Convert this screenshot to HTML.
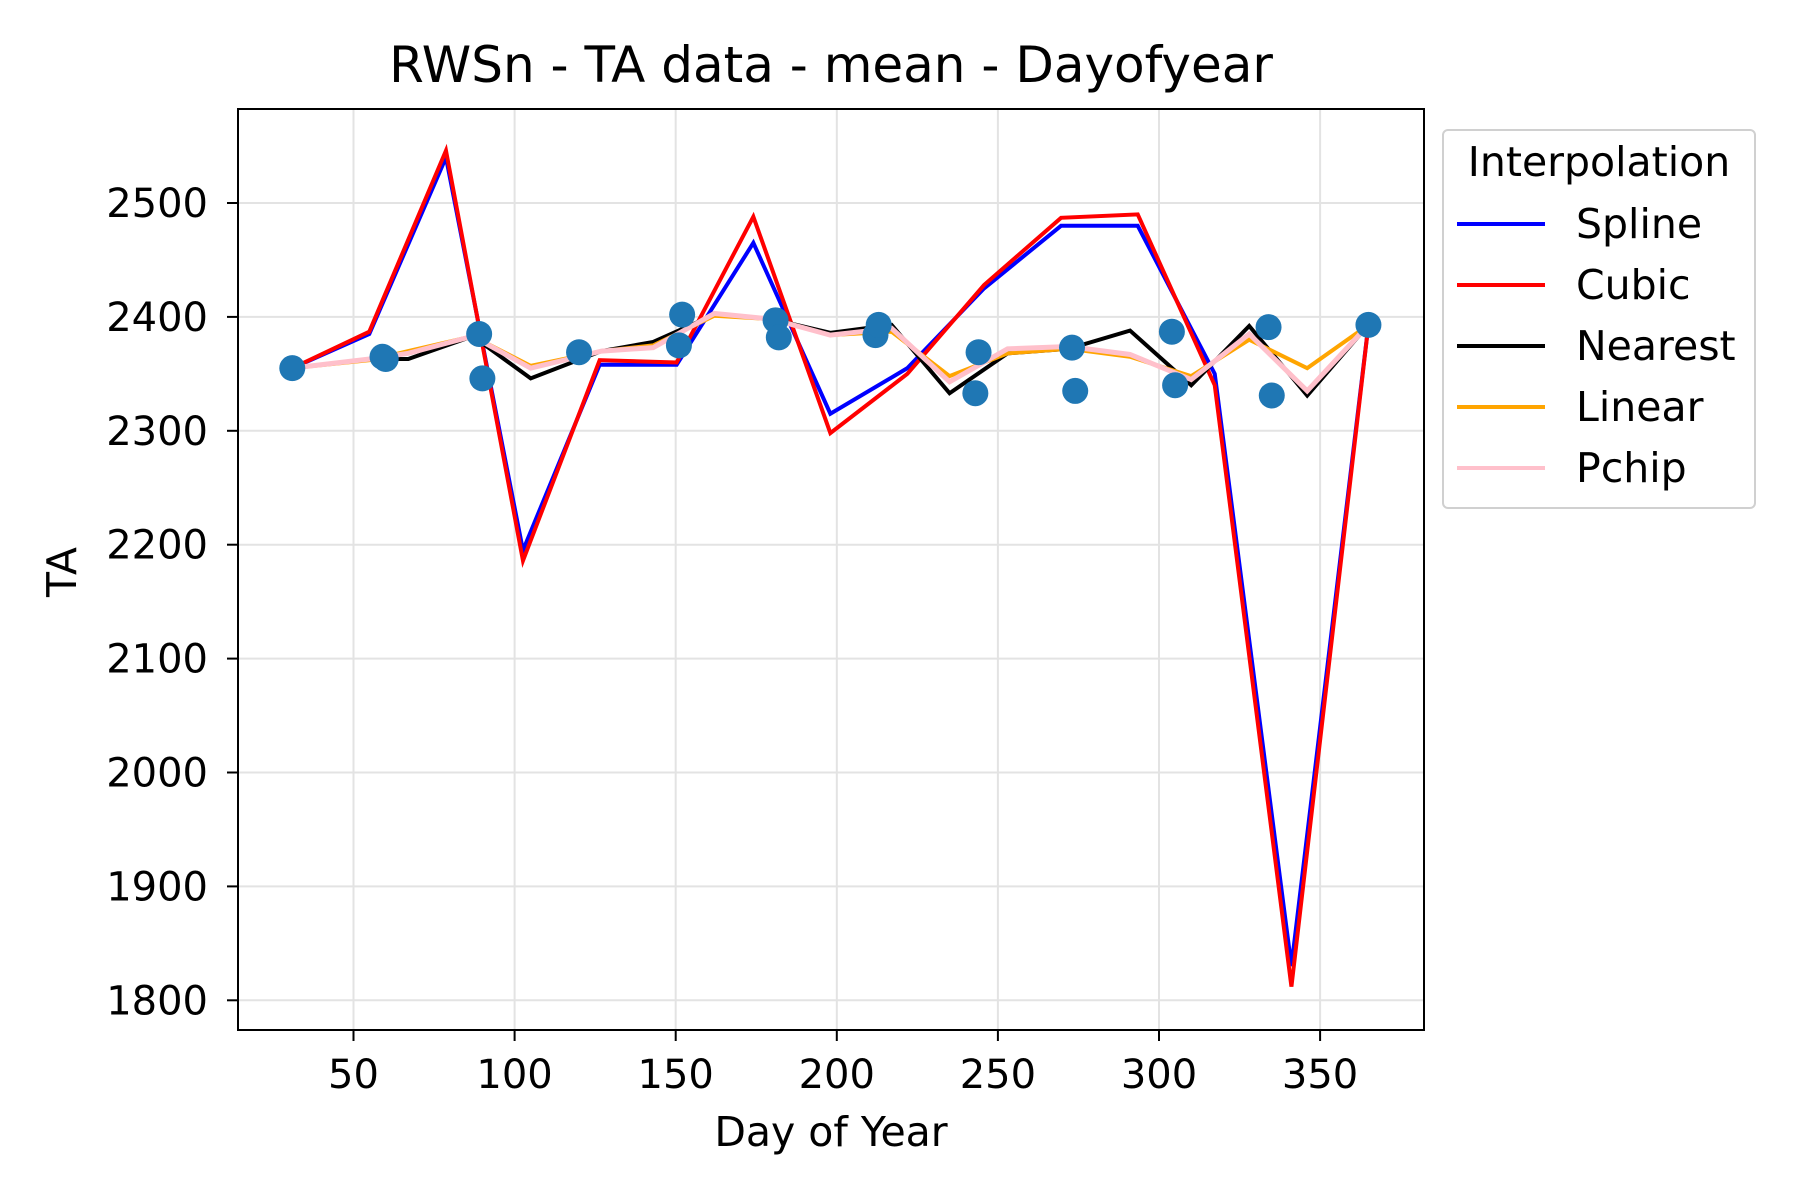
<!DOCTYPE html>
<html><head><meta charset="utf-8"><style>
body{margin:0;background:#fff}
svg{display:block;font-family:"DejaVu Sans","Liberation Sans",sans-serif}
</style></head><body>
<svg id="chart" width="1800" height="1200" viewBox="0 0 1800 1200">
<rect width="1800" height="1200" fill="#fff"/>
<g id="grid"></g><g id="lines"></g><g id="pts"></g><g id="axes"></g><g id="legend"></g>
</svg>
<script>
const xTicks=[50,100,150,200,250,300,350];
const yTicks=[1800,1900,2000,2100,2200,2300,2400,2500];
const scatterDays=[31,59,60,89,90,120,151,152,181,182,212,213,243,244,273,274,304,305,334,335,365];
const scatterVals=[2355,2365,2363,2385,2346,2369,2375,2402,2397,2382,2384,2393,2333,2369,2373,2335,2387,2340,2391,2331,2393];
const knotDays=[31,54.9,78.7,102.6,126.4,150.3,174.1,198,221.9,245.7,269.6,293.4,317.3,341.1,365];
const splineVals=[2355,2385,2540,2195,2358,2358,2465,2315,2355,2425,2480,2480,2350,1830,2393];
const cubicVals=[2355,2387,2546,2186,2362,2360,2488,2298,2350,2428,2487,2490,2340,1812,2393];
const fineDays=[31,55,67,87,105,127,143,162,180,198,217,235,253,272,291,310,328,346,365];
const nearestVals=[2355,2363,2363,2383,2346,2370,2378,2402,2398,2386,2393,2333,2368,2372,2388,2340,2392,2331,2393];
const linearVals=[2355,2362,2370,2383,2357,2370,2375,2401,2398,2384,2387,2348,2368,2372,2365,2348,2380,2355,2393];
const pchipVals=[2355,2363,2368,2383,2355,2370,2373,2403,2398,2384,2390,2343,2372,2374,2367,2345,2385,2335,2393];

const L=238,R=1424,T=109,B=1030;
const X=d=>353.5+(d-50)*3.222;
const Y=v=>203+(2500-v)*1.139;
const NS='http://www.w3.org/2000/svg';
function mk(tag,attrs,parent,text){const e=document.createElementNS(NS,tag);for(const k in attrs)e.setAttribute(k,attrs[k]);if(text!==undefined)e.textContent=text;parent.appendChild(e);return e;}
const grid=document.getElementById('grid'),axes=document.getElementById('axes'),lines=document.getElementById('lines'),pts=document.getElementById('pts'),leg=document.getElementById('legend');

xTicks.forEach(t=>{
 const g=mk('line',{x1:X(t),x2:X(t),y1:T,y2:B,stroke:'#e3e3e3','stroke-width':2},grid);
 
 
 mk('line',{x1:X(t),x2:X(t),y1:B,y2:B+11,stroke:'#000','stroke-width':2},axes);
 const l=mk('text',{x:X(t),y:B+58,'font-size':40,'text-anchor':'middle'},axes,String(t));
 
 
});
yTicks.forEach(t=>{
 const g=mk('line',{x1:L,x2:R,y1:Y(t),y2:Y(t),stroke:'#e3e3e3','stroke-width':2},grid);
 
 
 mk('line',{x1:L-11,x2:L,y1:Y(t),y2:Y(t),stroke:'#000','stroke-width':2},axes);
 const l=mk('text',{x:L-30,y:Y(t)+14,'font-size':40,'text-anchor':'end'},axes,String(t));
 
 
});
const frame=mk('rect',{x:L,y:T,width:R-L,height:B-T,fill:'none',stroke:'#000','stroke-width':2},axes);


const title=mk('text',{x:(L+R)/2,y:82,'font-size':50,'text-anchor':'middle'},axes,'RWSn - TA data - mean - Dayofyear');


const xl=mk('text',{x:(L+R)/2,y:1146,'font-size':41,'text-anchor':'middle'},axes,'Day of Year');


const yl=mk('text',{x:0,y:0,'font-size':41,'text-anchor':'middle',transform:'translate(76,572) rotate(-90)'},axes,'TA');



scatterDays.forEach((d,i)=>{
 const c=mk('circle',{cx:X(d),cy:Y(scatterVals[i]),r:13,fill:'#1f77b4'},pts);
 
 
});
function poly(days,vals,color,w,name){
 const p=mk('polyline',{points:days.map((d,i)=>X(d)+','+Y(vals[i])).join(' '),fill:'none',stroke:color,'stroke-width':w,'stroke-linejoin':'miter'},lines);
 
 
}
poly(knotDays,splineVals,'#0000ff',4,'spline-line');
poly(knotDays,cubicVals,'#ff0000',4,'cubic-line');
poly(fineDays,nearestVals,'#000000',4,'nearest-line');
poly(fineDays,linearVals,'#ffa500',4,'linear-line');
poly(fineDays,pchipVals,'#ffc0cb',5,'pchip-line');

const lb=mk('rect',{x:1443,y:130,width:312,height:378,rx:5,fill:'#fff',stroke:'#d0d0d0','stroke-width':2},leg);


const lt=mk('text',{x:1599,y:176,'font-size':41,'text-anchor':'middle'},leg,'Interpolation');


const entries=[['Spline','#0000ff'],['Cubic','#ff0000'],['Nearest','#000000'],['Linear','#ffa500'],['Pchip','#ffc0cb']];
entries.forEach((e,i)=>{
 const y=224+i*61;
 const g=mk('g',{},leg);
 
 
 mk('line',{x1:1457,x2:1545,y1:y,y2:y,stroke:e[1],'stroke-width':4},g);
 mk('text',{x:1576,y:y+14,'font-size':41},g,e[0]);
});
</script>
</body></html>
